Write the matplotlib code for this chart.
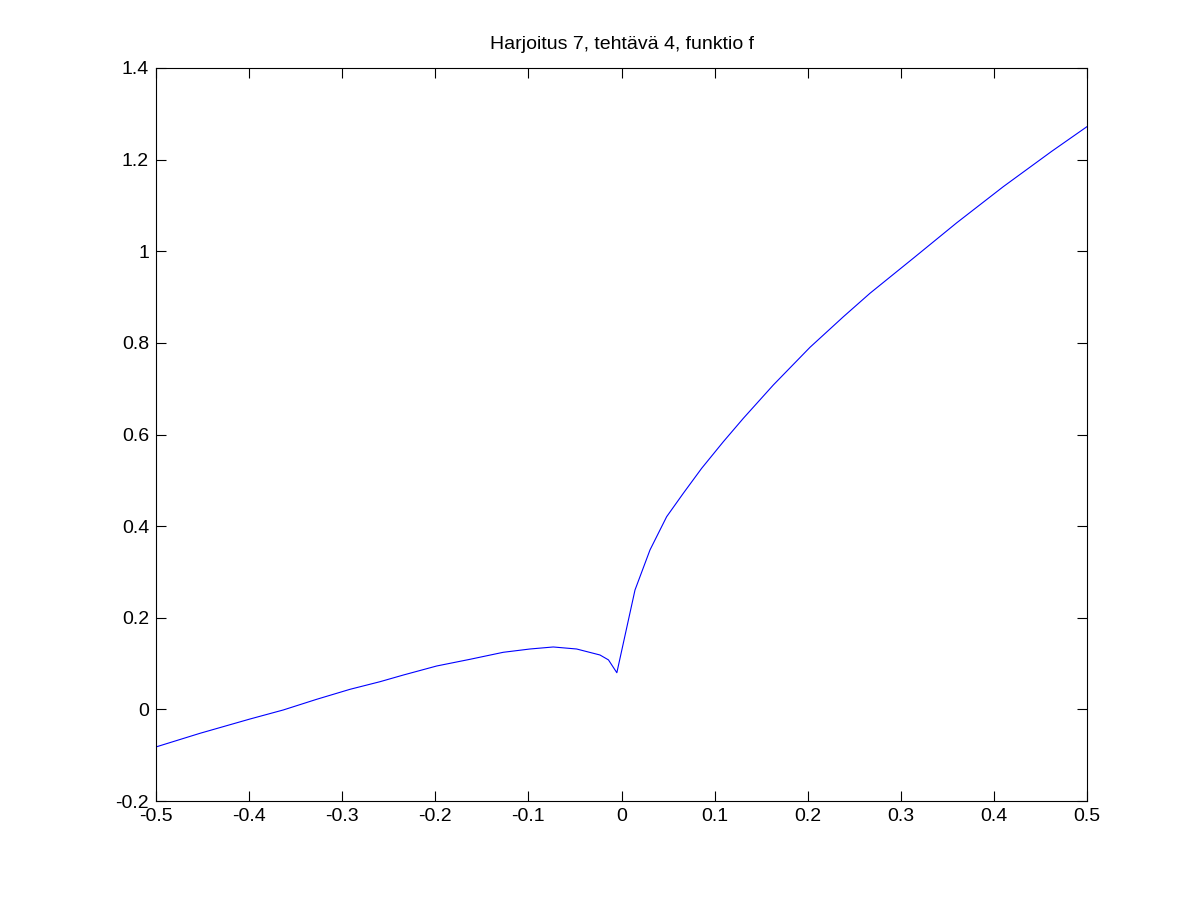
import matplotlib
matplotlib.use("Agg")
import matplotlib.pyplot as plt

x_vals = [-0.5, -0.4527, -0.399, -0.3633, -0.3274, -0.2916, -0.2594, -0.2343,
          -0.1985, -0.1627, -0.127, -0.0983, -0.0733, -0.0482, -0.0231, -0.014,
          -0.005, 0.0145, 0.0306, 0.0485, 0.0664, 0.0861, 0.1094, 0.1309,
          0.1631, 0.2025, 0.2383, 0.2669, 0.3134, 0.36, 0.4101, 0.462, 0.5]
y_vals = [-0.082, -0.0522, -0.021, -0.0013, 0.022, 0.0438, 0.0604, 0.075,
          0.0947, 0.1093, 0.1246, 0.1318, 0.1362, 0.1318, 0.1187, 0.108,
          0.080, 0.2606, 0.348, 0.4206, 0.4717, 0.5262, 0.5843, 0.6354,
          0.7081, 0.7904, 0.857, 0.9083, 0.9847, 1.062, 1.141, 1.218, 1.272]

x_ticks = [-0.5, -0.4, -0.3, -0.2, -0.1, 0, 0.1, 0.2, 0.3, 0.4, 0.5]
x_labels = ["-0.5", "-0.4", "-0.3", "-0.2", "-0.1", "0", "0.1", "0.2", "0.3", "0.4", "0.5"]
y_ticks = [-0.2, 0, 0.2, 0.4, 0.6, 0.8, 1, 1.2, 1.4]
y_labels = ["-0.2", "0", "0.2", "0.4", "0.6", "0.8", "1", "1.2", "1.4"]
title = "Harjoitus 7, tehtävä 4, funktio f"

plt.rcParams['font.family'] = ['Liberation Sans', 'DejaVu Sans']
fig = plt.figure(figsize=(12.01, 9.01), dpi=100)
ax = fig.add_axes([156/1201, 100/901, 931/1201, 733/901])
ax.plot(x_vals, y_vals, color='#0000ff', linewidth=0.8)
ax.set_xlim(-0.5, 0.5)
ax.set_ylim(-0.2, 1.4)
ax.set_xticks(x_ticks)
ax.set_xticklabels(x_labels)
ax.set_yticks(y_ticks)
ax.set_yticklabels(y_labels)
ax.tick_params(direction='in', length=7, width=0.8, top=True, right=True,
               labelsize=14, pad=5)
for s in ax.spines.values():
    s.set_linewidth(0.8)
ax.set_title(title, fontsize=14, pad=14)
fig.savefig("out.png", dpi=100)
